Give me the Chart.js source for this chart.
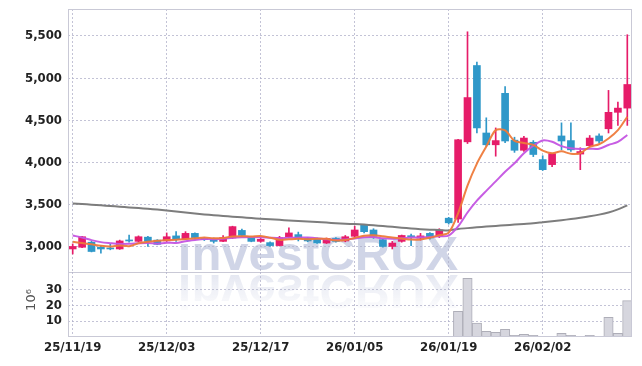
<!DOCTYPE html>
<html>
<head>
<meta charset="utf-8">
<script src="https://cdn.jsdelivr.net/npm/chart.js@4.4.1/dist/chart.umd.min.js"></script>
<style>
  body { margin: 0; background: #fff; }
  #wrap { position: relative; width: 642px; height: 366px; }
  canvas { position: absolute; left: 0; }
  #wm { top: 0; }
  #price { top: 0; }
  #vol { top: 272px; }
</style>
</head>
<body>
<div id="wrap">
  <canvas id="wm" width="642" height="366"></canvas>
  <canvas id="price" width="642" height="273"></canvas>
  <canvas id="vol" width="642" height="94"></canvas>
</div>
<script>
// dates (trading days)
const dates = [
  "25/11/19","25/11/20","25/11/21","25/11/24","25/11/25","25/11/26","25/11/27","25/11/28",
  "25/12/01","25/12/02","25/12/03","25/12/04","25/12/05","25/12/08","25/12/09","25/12/10",
  "25/12/11","25/12/12","25/12/15","25/12/16","25/12/17","25/12/18","25/12/19","25/12/22",
  "25/12/23","25/12/24","25/12/26","25/12/29","25/12/30","26/01/02","26/01/05","26/01/06",
  "26/01/07","26/01/08","26/01/09","26/01/12","26/01/13","26/01/14","26/01/15","26/01/16",
  "26/01/19","26/01/20","26/01/21","26/01/22","26/01/23","26/01/26","26/01/27","26/01/28",
  "26/01/29","26/01/30","26/02/02","26/02/03","26/02/04","26/02/05","26/02/06","26/02/09",
  "26/02/10","26/02/11","26/02/12","26/02/13"
];
const dateTicks = ["25/11/19","25/12/03","25/12/17","26/01/05","26/01/19","26/02/02"];

const opens = [
  2975,2995,3055,2995,2985,2975,3080,3065,3115,3080,
  3070,3130,3095,3160,3100,3100,3065,3105,3195,3120,
  3065,3050,3015,3120,3145,3100,3095,3045,3100,3070,
  3125,3260,3200,3085,3005,3065,3130,3105,3160,3125,
  3340,3330,4245,5150,4350,4210,4820,4265,4145,4240,
  4035,3975,4315,4260,4100,4200,4315,4400,4595,4645
];
const highs = [
  3035,3125,3065,3015,3030,3080,3140,3130,3125,3085,
  3165,3180,3180,3165,3110,3105,3135,3245,3210,3125,
  3100,3060,3125,3225,3175,3110,3105,3105,3110,3135,
  3245,3265,3215,3090,3065,3140,3150,3160,3170,3215,
  3350,4275,5550,5190,4530,4410,4900,4300,4310,4260,
  4080,4110,4470,4470,4175,4320,4340,4855,4715,5515
];
const lows = [
  2915,2990,2940,2925,2965,2970,3055,3060,3005,3025,
  3065,3065,3085,3100,3075,3045,3060,3100,3125,3060,
  3055,3005,3010,3110,3070,3060,3040,3040,3055,3060,
  3115,3165,3100,2995,2975,3055,3015,3080,3090,3110,
  3270,3290,4225,4350,4190,4075,4235,4120,4130,4070,
  3905,3950,4150,4130,3915,4190,4230,4350,4440,4440
];
const closes = [
  3005,3120,2945,2975,2975,3070,3070,3120,3065,3030,
  3120,3085,3160,3110,3085,3065,3110,3240,3135,3065,
  3090,3015,3110,3165,3095,3070,3045,3100,3065,3120,
  3200,3180,3125,3005,3045,3135,3120,3130,3105,3200,
  3285,4270,4770,4410,4210,4260,4255,4145,4290,4095,
  3915,4105,4255,4150,4130,4290,4255,4595,4645,4925
];
// moving averages
const ma5 = [
  3060,3045,3030,3012,3004,3017,3007,3042,3060,3071,
  3081,3084,3092,3101,3112,3101,3106,3122,3127,3123,
  3128,3109,3083,3089,3095,3091,3097,3095,3075,3080,
  3106,3133,3138,3126,3111,3098,3086,3087,3107,3138,
  3168,3398,3726,3987,4189,4384,4381,4256,4232,4209,
  4140,4110,4132,4104,4111,4186,4216,4284,4383,4542
];
const ma10 = [
  3135,3110,3080,3056,3044,3035,3036,3042,3045,3038,
  3049,3046,3067,3081,3092,3091,3095,3107,3114,3118,
  3115,3108,3103,3108,3109,3110,3103,3089,3082,3088,
  3099,3115,3117,3101,3096,3102,3110,3113,3117,3125,
  3133,3242,3407,3547,3664,3776,3890,3991,4110,4199,
  4262,4246,4194,4168,4160,4163,4163,4208,4244,4327
];
const maLong = [
  3515,3508,3500,3492,3484,3476,3468,3460,3452,3442,
  3432,3420,3408,3396,3385,3375,3367,3358,3350,3341,
  3333,3327,3320,3313,3306,3300,3294,3288,3280,3274,
  3270,3264,3256,3247,3237,3227,3218,3210,3204,3200,
  3195,3212,3222,3232,3240,3248,3256,3264,3272,3280,
  3292,3304,3316,3330,3345,3362,3382,3408,3445,3492
];
// volume, millions of shares
const volumes = [
  0,0,0,0,0,0,0,0,0,0,
  0,0,0,0,0,0,0,0,0,0,
  0,0,0,0,0,0,0,0,0,0,
  0,0,0,0,0,0,0,0,0.2,0.3,
  0.5,16.1,36.9,8.8,3.6,2.9,4.8,1.1,1.7,1.1,
  0.5,0.5,2.3,1.1,0.5,1.1,0.5,12.3,2.3,22.9
];
const priceTicks = [3000, 3500, 4000, 4500, 5000, 5500];
const volTicks = [10, 20, 30];

const UP = "#e61c69";
const DOWN = "#2f98c9";
const candleColors = closes.map((c, i) => c >= opens[i] ? UP : DOWN);

const tickFont = { family: "'DejaVu Sans Condensed', 'DejaVu Sans', sans-serif", size: 13, weight: "bold" };
const gridColor = "rgba(175,175,200,0.75)";

// watermark behind both panes
(function () {
  const c = document.getElementById("wm").getContext("2d");
  c.font = "bold 49px 'Liberation Sans'";
  c.textAlign = "center";
  c.textBaseline = "alphabetic";
  c.fillStyle = "rgba(205,211,230,0.95)";
  c.fillText("investCRUX", 318, 270);
  c.save();
  c.translate(0, 545);
  c.scale(1, -1);
  const g = c.createLinearGradient(0, 232, 0, 275);
  g.addColorStop(0, "rgba(228,231,241,0.05)");
  g.addColorStop(1, "rgba(224,227,239,0.95)");
  c.fillStyle = g;
  c.fillText("investCRUX", 318, 270);
  c.restore();
})();

const framePlugin = {
  id: "frame",
  afterDraw(chart, args, opts) {
    const { ctx, chartArea: a } = chart;
    ctx.save();
    ctx.strokeStyle = "#c9c9d6";
    ctx.lineWidth = 1;
    ctx.beginPath();
    if (opts.top) { ctx.moveTo(a.left, a.top + 0.5); ctx.lineTo(a.right, a.top + 0.5); }
    ctx.moveTo(a.left + 0.5, a.top); ctx.lineTo(a.left + 0.5, a.bottom);
    ctx.moveTo(a.right - 0.5, a.top); ctx.lineTo(a.right - 0.5, a.bottom);
    ctx.moveTo(a.left, a.bottom - 0.5); ctx.lineTo(a.right, a.bottom - 0.5);
    ctx.stroke();
    if (opts.unit) {
      ctx.translate(32, 28);
      ctx.rotate(-Math.PI / 2);
      ctx.font = "13px 'DejaVu Sans'";
      ctx.fillStyle = "#555";
      ctx.textAlign = "center";
      ctx.textBaseline = "middle";
      ctx.fillText(opts.unit, 0, 0);
    }
    ctx.restore();
  }
};

const noPad = (s) => { s.paddingTop = 0; s.paddingBottom = 0; s.paddingLeft = 0; s.paddingRight = 0; };

const xScale = (showLabels) => ({
  type: "category",
  offset: true,
  grid: { offset: false, color: gridColor, drawTicks: false },
  border: { display: false, dash: [2, 2] },
  ticks: {
    display: showLabels,
    autoSkip: false,
    maxRotation: 0,
    padding: 3,
    color: "#222",
    font: tickFont
  },
  afterBuildTicks(s) {
    s.ticks = s.ticks.filter(t => dateTicks.includes(dates[t.value]));
  },
  afterFit(s) { s.height = showLabels ? 29 : 0; noPad(s); }
});

new Chart(document.getElementById("price"), {
  type: "bar",
  data: {
    labels: dates,
    datasets: [
      { type: "line", label: "MA5", data: ma5, borderColor: "rgba(238,122,58,0.95)", borderWidth: 2, pointRadius: 0, tension: 0.3, order: 1 },
      { type: "line", label: "MA10", data: ma10, borderColor: "rgba(196,84,226,0.95)", borderWidth: 2, pointRadius: 0, tension: 0.3, order: 2 },
      { type: "line", label: "MA", data: maLong, borderColor: "#7d7d7d", borderWidth: 2, pointRadius: 0, tension: 0.3, order: 3 },
      { label: "wick", data: lows.map((l, i) => [l, highs[i]]), backgroundColor: candleColors, barThickness: 1, grouped: false, order: 5 },
      { label: "body", data: opens.map((o, i) => [o, closes[i]]), backgroundColor: candleColors, barThickness: 7, minBarLength: 1, grouped: false, order: 4 }
    ]
  },
  options: {
    responsive: false,
    animation: false,
    layout: { padding: { top: 9, right: 10, left: 0, bottom: 0 } },
    plugins: { legend: { display: false }, tooltip: { enabled: false }, frame: { top: true } },
    scales: {
      x: xScale(false),
      y: {
        min: 2690,
        max: 5820,
        grid: { color: gridColor, drawTicks: false },
        border: { display: false, dash: [2, 2] },
        ticks: {
          padding: 6,
          color: "#222",
          font: tickFont,
          callback: v => v.toLocaleString("en-US")
        },
        afterBuildTicks(s) { s.ticks = priceTicks.map(v => ({ value: v })); },
        afterFit(s) { s.width = 68; noPad(s); }
      }
    }
  },
  plugins: [framePlugin]
});

new Chart(document.getElementById("vol"), {
  type: "bar",
  data: {
    labels: dates,
    datasets: [
      { label: "Volume", data: volumes, backgroundColor: "#d6d6de", borderColor: "#aeaeb8", borderWidth: 1, barPercentage: 1, categoryPercentage: 1 }
    ]
  },
  options: {
    responsive: false,
    animation: false,
    layout: { padding: { top: 0, right: 10, left: 0, bottom: 0 } },
    plugins: { legend: { display: false }, tooltip: { enabled: false }, frame: { top: false, unit: "10\u2076" } },
    scales: {
      x: xScale(true),
      y: {
        min: 0,
        max: 40.9,
        grid: { color: gridColor, drawTicks: false },
        border: { display: false, dash: [2, 2] },
        ticks: { padding: 6, color: "#222", font: tickFont },
        afterBuildTicks(s) { s.ticks = volTicks.map(v => ({ value: v })); },
        afterFit(s) { s.width = 68; noPad(s); }
      }
    }
  },
  plugins: [framePlugin]
});
</script>
</body>
</html>
